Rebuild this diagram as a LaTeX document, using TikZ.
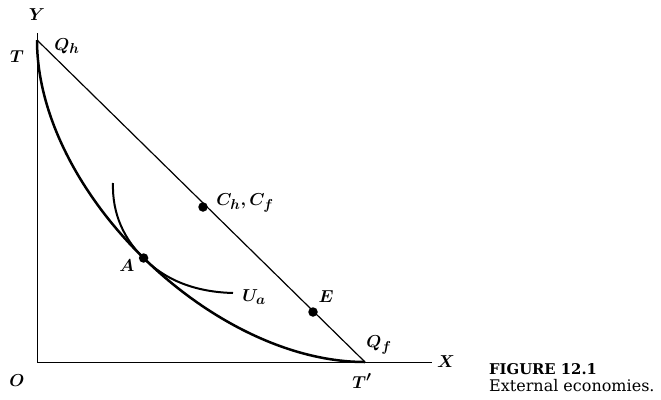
\documentclass[tikz,border=0pt]{standalone}
\usepackage{fontspec}
\newfontfamily\capfont{DejaVu Serif}
\begin{document}
\begin{tikzpicture}[x=1pt,y=-1pt,
  lbl/.style={font=\fontsize{19}{22}\selectfont\boldmath, inner sep=0pt},
  dot/.style={circle, fill=black, inner sep=0pt, minimum size=9.5pt},
  axis/.style={line width=1pt},
  budget/.style={line width=1.2pt},
  ppf/.style={line width=2.5pt},
  indiff/.style={line width=2pt}]
\useasboundingbox (0,0) rectangle (661,399);
% coordinates
\coordinate (O) at (37,362);
\coordinate (Ytop) at (37,33);
\coordinate (Xend) at (432,362);
\coordinate (T) at (37,40);
\coordinate (Tp) at (365,362);
\coordinate (Ustart) at (113,183);
\coordinate (Uend) at (233,293);
\coordinate (Apt) at (143.6,258);
% axes
\draw[axis] (Ytop) -- (O) -- (Xend);
% budget line
\draw[budget] (T) -- (Tp);
% PPF
\draw[ppf] (T) .. controls (37,192) and (212,362) .. (Tp);
% indifference curve
\draw[indiff] (Ustart) .. controls (112,215) and (125,240) .. (Apt)
  .. controls (165,280) and (195,292) .. (Uend);
% points
\node[dot] (C) at (203,207) {};
\node[dot] (A) at (Apt) {};
\node[dot] (E) at (313,312) {};
% labels
\node[lbl] (Ylab) at (37,15) {$Y$};
\node[lbl] (Tlab) at (17,57) {$T$};
\node[lbl] (Qh) at (67,46) {$Q_h$};
\node[lbl] (Clab) at (245,203) {$C_h,C_f$};
\node[lbl] (Alab) at (127,266) {$A$};
\node[lbl] (Ua) at (254,297) {$U_a$};
\node[lbl] (Elab) at (326,297) {$E$};
\node[lbl] (Qf) at (379,345) {$Q_f$};
\node[lbl] (Xlab) at (446,362) {$X$};
\node[lbl] (Tplab) at (362,381) {$T'$};
\node[lbl] (Olab) at (17,381) {$O$};
\node[anchor=base west, inner sep=0pt] (cap1) at (489,374)
  {\capfont\fontsize{14.8}{17}\selectfont\bfseries FIGURE 12.1};
\node[anchor=base west, inner sep=0pt] (cap2) at (489,391)
  {\capfont\fontsize{16}{17}\selectfont External economies.};
\end{tikzpicture}
\end{document}
